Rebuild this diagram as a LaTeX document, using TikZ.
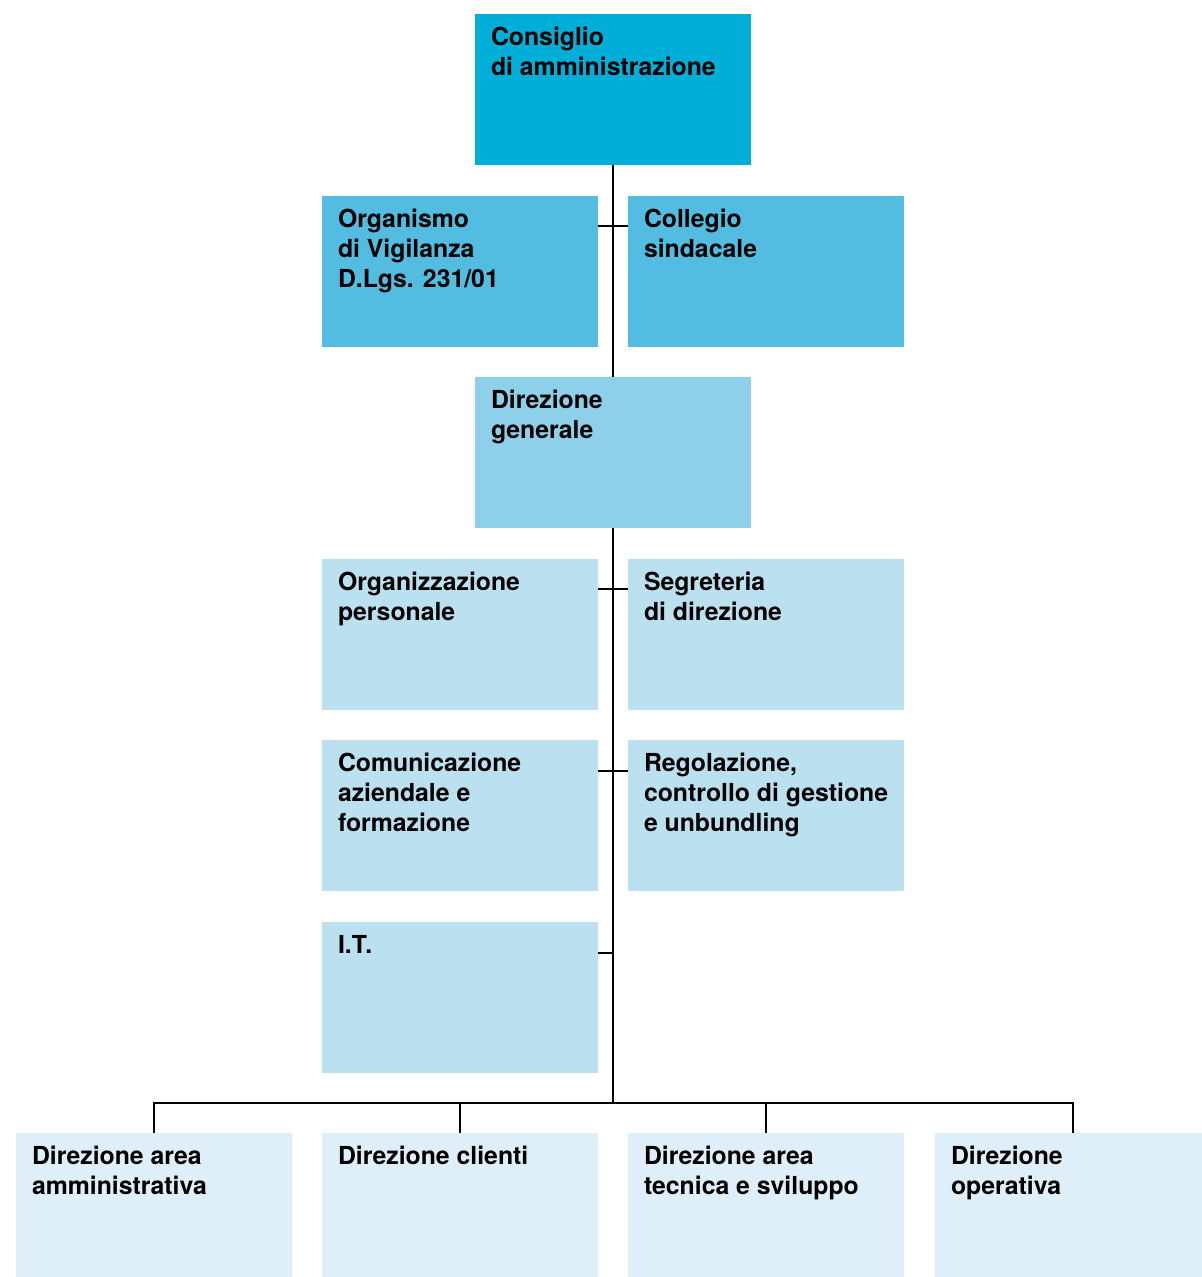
\documentclass[tikz,border=0pt]{standalone}
\usepackage{fontspec}
\setmainfont{TeX Gyre Heros}
\definecolor{cA}{HTML}{00AED8}
\definecolor{cB}{HTML}{52BDE0}
\definecolor{cC}{HTML}{8ECFEA}
\definecolor{cD}{HTML}{BBE1F1}
\definecolor{cE}{HTML}{DEEFF9}
\newcommand{\mlines}[1]{\begin{tabular}[t]{@{}l@{}}#1\end{tabular}}
\tikzset{
  box/.style={rectangle, inner sep=0pt, outer sep=0pt, anchor=north west, minimum width=276pt, minimum height=151pt},
  txt/.style={anchor=base west, inner sep=0pt, outer sep=0pt, font=\fontsize{24.8}{30}\selectfont\bfseries, text=black},
  conn/.style={draw=black, line width=1.5pt},
}
\begin{document}
\begin{tikzpicture}[x=1pt,y=-1pt]
\useasboundingbox (0,0) rectangle (1202,1277);
% boxes
\node[box, fill=cA] (cda) at (475,14) {};
\node[box, fill=cB] (ov) at (322,196) {};
\node[box, fill=cB] (cs) at (628,196) {};
\node[box, fill=cC] (dg) at (475,377) {};
\node[box, fill=cD] (op) at (322,559) {};
\node[box, fill=cD] (sd) at (628,559) {};
\node[box, fill=cD] (ca) at (322,740) {};
\node[box, fill=cD] (rc) at (628,740) {};
\node[box, fill=cD] (it) at (322,922) {};
\node[box, fill=cE, minimum height=144pt] (daa) at (16,1133) {};
\node[box, fill=cE, minimum height=144pt] (dc) at (322,1133) {};
\node[box, fill=cE, minimum height=144pt] (dts) at (628,1133) {};
\node[box, fill=cE, minimum height=144pt, minimum width=267pt] (dop) at (935,1133) {};
% texts
\node[txt] (cda-t) at ([xshift=16pt,yshift=-31pt]cda.north west) {\mlines{Consiglio\\di amministrazione}};
\node[txt] (ov-t) at ([xshift=16pt,yshift=-31pt]ov.north west) {\mlines{Organismo\\di Vigilanza\\D.Lgs. 231/01}};
\node[txt] (cs-t) at ([xshift=16pt,yshift=-31pt]cs.north west) {\mlines{Collegio\\sindacale}};
\node[txt] (dg-t) at ([xshift=16pt,yshift=-31pt]dg.north west) {\mlines{Direzione\\generale}};
\node[txt] (op-t) at ([xshift=16pt,yshift=-31pt]op.north west) {\mlines{Organizzazione\\personale}};
\node[txt] (sd-t) at ([xshift=16pt,yshift=-31pt]sd.north west) {\mlines{Segreteria\\di direzione}};
\node[txt] (ca-t) at ([xshift=16pt,yshift=-31pt]ca.north west) {\mlines{Comunicazione\\aziendale e\\formazione}};
\node[txt] (rc-t) at ([xshift=16pt,yshift=-31pt]rc.north west) {\mlines{Regolazione,\\controllo di gestione\\e unbundling}};
\node[txt] (it-t) at ([xshift=16pt,yshift=-31pt]it.north west) {I.T.};
\node[txt] (daa-t) at ([xshift=16pt,yshift=-31pt]daa.north west) {\mlines{Direzione area\\amministrativa}};
\node[txt] (dc-t) at ([xshift=16pt,yshift=-31pt]dc.north west) {Direzione clienti};
\node[txt] (dts-t) at ([xshift=16pt,yshift=-31pt]dts.north west) {\mlines{Direzione area\\tecnica e sviluppo}};
\node[txt] (dop-t) at ([xshift=16pt,yshift=-31pt]dop.north west) {\mlines{Direzione\\operativa}};
% connectors
\coordinate (bus) at (613,1103);
\coordinate (itj) at (613,953);
\draw[conn] (cda.south) -- (dg.north);
\draw[conn] (dg.south) -- (bus);
\draw[conn] ([yshift=-30pt]ov.north east) -- ([yshift=-30pt]cs.north west);
\draw[conn] ([yshift=-30pt]op.north east) -- ([yshift=-30pt]sd.north west);
\draw[conn] ([yshift=-31pt]ca.north east) -- ([yshift=-31pt]rc.north west);
\draw[conn] ([yshift=-31pt]it.north east) -- (itj);
\draw[conn] (daa.north) |- (bus) -| ([xshift=138pt]dop.north west);
\draw[conn] (dc.north) -- (dc.north |- bus);
\draw[conn] (dts.north) -- (dts.north |- bus);
\end{tikzpicture}
\end{document}
